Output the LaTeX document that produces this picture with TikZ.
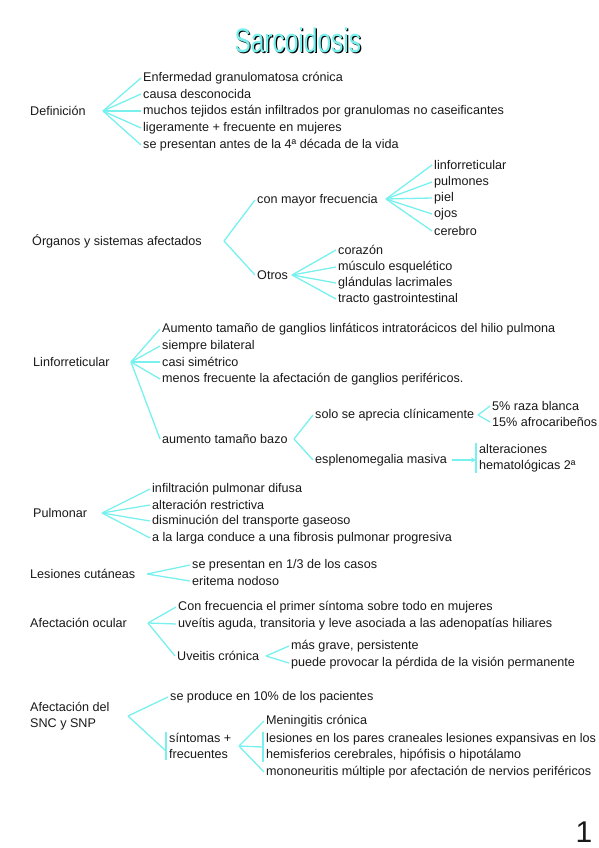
\documentclass[tikz,border=0pt]{standalone}
\usepackage{fontspec}
\setmainfont{Liberation Sans}
\newfontfamily\hand{Liberation Sans}
\usetikzlibrary{arrows.meta}
\definecolor{cy}{RGB}{120,240,238}
\definecolor{ink}{RGB}{25,25,25}
\tikzset{
  lbl/.style={anchor=west, inner sep=0pt, text=ink, font=\hand\fontsize{12.6}{16.5}\selectfont},
  mlbl/.style={lbl, align=left},
  br/.style={draw=cy, line width=1.3pt},
  bar/.style={draw=cy, line width=1.5pt},
}
\begin{document}
\begin{tikzpicture}[x=1pt,y=-1pt]
\useasboundingbox (0,0) rectangle (599,848);
% title
\node[inner sep=0pt, text=black, font=\hand\fontsize{34}{34}\selectfont] (titleb) at (299,41.5) {\scalebox{0.72}[1]{Sarcoidosis}};
\node[inner sep=0pt, text=cy, font=\hand\fontsize{34}{34}\selectfont] (title) at (297.8,40.8) {\scalebox{0.72}[1]{Sarcoidosis}};

% Definicion
\node[lbl] (def) at (30,111) {Definición};
\coordinate (od) at (103,111);
\node[lbl] (d1) at (143,78) {Enfermedad granulomatosa crónica};
\node[lbl] (d2) at (143,94) {causa desconocida};
\node[lbl] (d3) at (143,111) {muchos tejidos están infiltrados por granulomas no caseificantes};
\node[lbl] (d4) at (143,128) {ligeramente + frecuente en mujeres};
\node[lbl] (d5) at (143,145) {se presentan antes de la 4ª década de la vida};
\foreach \c in {d1,d2,d3,d4,d5} \draw[br] (od) -- ([xshift=-2pt]\c.west);

% Organos
\node[lbl] (org) at (32,241) {Órganos y sistemas afectados};
\coordinate (oo) at (224,241);
\node[lbl] (cmf) at (257,200) {con mayor frecuencia};
\node[lbl] (otr) at (257,275) {Otros};
\draw[br] (oo) -- ([xshift=-2pt]cmf.west);
\draw[br] (oo) -- ([xshift=-2pt]otr.west);
\coordinate (ocmf) at (386,199);
\node[lbl] (c1) at (434,165) {linforreticular};
\node[lbl] (c2) at (434,182) {pulmones};
\node[lbl] (c3) at (434,198) {piel};
\node[lbl] (c4) at (434,214) {ojos};
\node[lbl] (c5) at (434,231) {cerebro};
\foreach \c in {c1,c2,c3,c4,c5} \draw[br] (ocmf) -- ([xshift=-2pt]\c.west);
\coordinate (ootr) at (292,275);
\node[lbl] (o1) at (338,250) {corazón};
\node[lbl] (o2) at (338,267) {músculo esquelético};
\node[lbl] (o3) at (338,283) {glándulas lacrimales};
\node[lbl] (o4) at (338,299) {tracto gastrointestinal};
\foreach \c in {o1,o2,o3,o4} \draw[br] (ootr) -- ([xshift=-2pt]\c.west);

% Linforreticular
\node[lbl] (lin) at (33,362) {Linforreticular};
\coordinate (olin) at (131,362);
\node[lbl] (l1) at (162,329) {Aumento tamaño de ganglios linfáticos intratorácicos del hilio pulmona};
\node[lbl] (l2) at (162,346) {siempre bilateral};
\node[lbl] (l3) at (162,362) {casi simétrico};
\node[lbl] (l4) at (162,379) {menos frecuente la afectación de ganglios periféricos.};
\node[lbl] (l5) at (162,439) {aumento tamaño bazo};
\foreach \c in {l1,l2,l3,l4,l5} \draw[br] (olin) -- ([xshift=-2pt]\c.west);
\coordinate (obazo) at (294,439);
\node[lbl] (sola) at (315,415) {solo se aprecia clínicamente};
\node[lbl] (esp) at (315,460) {esplenomegalia masiva};
\draw[br] (obazo) -- ([xshift=-2pt]sola.west);
\draw[br] (obazo) -- ([xshift=-2pt]esp.west);
\coordinate (osola) at (478,415);
\node[lbl] (s1) at (492,406) {5\% raza blanca};
\node[lbl] (s2) at (492,422) {15\% afrocaribeños};
\draw[br] (osola) -- ([xshift=-2pt]s1.west);
\draw[br] (osola) -- ([xshift=-2pt]s2.west);
\node[mlbl] (alt) at (479,458) {alteraciones\\hematológicas 2ª};
\draw[bar] ([xshift=-3pt,yshift=1pt]alt.north west) -- ([xshift=-3pt,yshift=-1pt]alt.south west);
\draw[br, -{Stealth[length=5pt,width=5pt]}] (452,460) -- ([xshift=-3pt]alt.west |- esp.west);

% Pulmonar
\node[lbl] (pul) at (33,513) {Pulmonar};
\coordinate (opul) at (102,513);
\node[lbl] (p1) at (152,489) {infiltración pulmonar difusa};
\node[lbl] (p2) at (152,505) {alteración restrictiva};
\node[lbl] (p3) at (152,521) {disminución del transporte gaseoso};
\node[lbl] (p4) at (152,538) {a la larga conduce a una fibrosis pulmonar progresiva};
\foreach \c in {p1,p2,p3,p4} \draw[br] (opul) -- ([xshift=-2pt]\c.west);

% Lesiones cutaneas
\node[lbl] (les) at (30,574) {Lesiones cutáneas};
\coordinate (oles) at (147,574);
\node[lbl] (e1) at (192,565) {se presentan en 1/3 de los casos};
\node[lbl] (e2) at (192,581) {eritema nodoso};
\foreach \c in {e1,e2} \draw[br] (oles) -- ([xshift=-2pt]\c.west);

% Afectacion ocular
\node[lbl] (ocu) at (30,623) {Afectación ocular};
\coordinate (oocu) at (148,623);
\node[lbl] (u1) at (178,607) {Con frecuencia el primer síntoma sobre todo en mujeres};
\node[lbl] (u2) at (178,624) {uveítis aguda, transitoria y leve asociada a las adenopatías hiliares};
\node[lbl] (u3) at (177,656) {Uveitis crónica};
\foreach \c in {u1,u2,u3} \draw[br] (oocu) -- ([xshift=-2pt]\c.west);
\coordinate (ouc) at (266,656);
\node[lbl] (v1) at (291,646) {más grave, persistente};
\node[lbl] (v2) at (291,663) {puede provocar la pérdida de la visión permanente};
\foreach \c in {v1,v2} \draw[br] (ouc) -- ([xshift=-2pt]\c.west);

% SNC
\node[mlbl] (snc) at (30,716) {Afectación del\\SNC y SNP};
\coordinate (osnc) at (128,716);
\node[lbl] (n1) at (170,697) {se produce en 10\% de los pacientes};
\node[mlbl] (sint) at (169,746) {síntomas +\\frecuentes};
\draw[br] (osnc) -- ([xshift=-2pt]n1.west);
\draw[br] (osnc) -- ([xshift=-3pt,yshift=-5pt]sint.west);
\draw[bar] ([xshift=-3pt,yshift=1pt]sint.north west) -- ([xshift=-3pt,yshift=-1pt]sint.south west);
\coordinate (osint) at (239,746);
\node[lbl] (m1) at (266,721) {Meningitis crónica};
\node[mlbl] (m2) at (266,747) {lesiones en los pares craneales lesiones expansivas en los\\hemisferios cerebrales, hipófisis o hipotálamo};
\node[lbl] (m3) at (266,772) {mononeuritis múltiple por afectación de nervios periféricos};
\draw[bar] ([xshift=-3pt,yshift=1pt]m2.north west) -- ([xshift=-3pt,yshift=-1pt]m2.south west);
\foreach \c in {m1,m3} \draw[br] (osint) -- ([xshift=-2pt]\c.west);
\draw[br] (osint) -- ([xshift=-3pt]m2.west);

% page number
\node[inner sep=0pt, text=ink, font=\fontsize{30}{30}\selectfont] (pg) at (584,832) {1};
\end{tikzpicture}
\end{document}
